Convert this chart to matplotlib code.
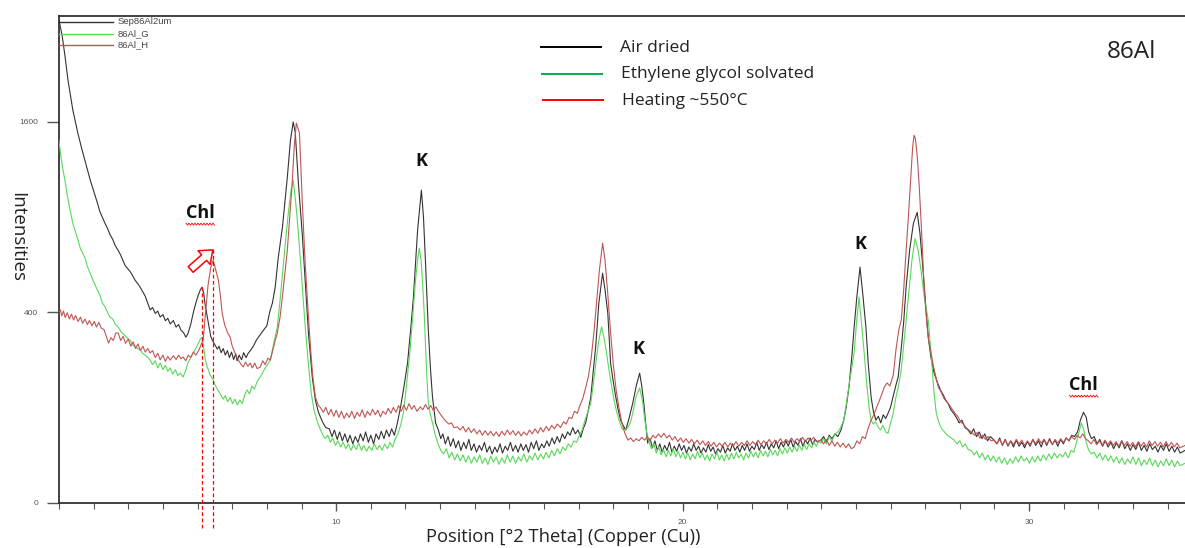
"""
XRD pattern of sample 86Al: air dried, glycolated and heated (~550 C) runs.
Intensity axis is square-root scaled, as in the instrument software export.
"""

import numpy as np
import matplotlib
matplotlib.use("Agg")
import matplotlib.pyplot as plt
from matplotlib.ticker import FixedLocator, MultipleLocator, NullFormatter
from matplotlib.transforms import blended_transform_factory, IdentityTransform

plt.rcParams["font.family"] = ["Open Sans", "DejaVu Sans"]

# --- data: (2theta [deg], counts) ---
air_dried = [
    (2.00, 2570), (2.09, 2410), (2.17, 2210), (2.26, 1970), (2.40, 1700), (2.55, 1500), (2.65, 1390),
    (2.75, 1290), (2.83, 1210), (2.90, 1150), (2.97, 1095), (3.04, 1040), (3.11, 990), (3.18, 935),
    (3.25, 900), (3.33, 860), (3.40, 830), (3.48, 790), (3.55, 765), (3.62, 730), (3.70, 705),
    (3.77, 680), (3.84, 650), (3.91, 620), (3.98, 605), (4.05, 590), (4.12, 570), (4.20, 545),
    (4.27, 530), (4.35, 510), (4.42, 490), (4.49, 470), (4.56, 440), (4.63, 410), (4.70, 420),
    (4.78, 395), (4.85, 405), (4.92, 380), (5.00, 390), (5.07, 365), (5.14, 375), (5.21, 352),
    (5.30, 366), (5.38, 340), (5.45, 350), (5.52, 328), (5.60, 318), (5.66, 302), (5.72, 314),
    (5.80, 350), (5.88, 400), (5.95, 440), (6.02, 475), (6.08, 500), (6.13, 512), (6.18, 480),
    (6.22, 430), (6.28, 380), (6.33, 340), (6.38, 305), (6.43, 290), (6.50, 275), (6.57, 260),
    (6.62, 270), (6.68, 248), (6.74, 262), (6.80, 240), (6.86, 255), (6.92, 232), (6.98, 250),
    (7.04, 226), (7.10, 244), (7.14, 222), (7.20, 240), (7.27, 225), (7.33, 248), (7.40, 232),
    (7.46, 246), (7.53, 256), (7.61, 270), (7.70, 292), (7.80, 310), (7.90, 328), (8.00, 345),
    (8.08, 400), (8.16, 440), (8.24, 512), (8.33, 665), (8.45, 838), (8.52, 1000), (8.59, 1168),
    (8.68, 1450), (8.76, 1600), (8.82, 1510), (8.91, 1125), (9.02, 800), (9.11, 530), (9.20, 317),
    (9.31, 174), (9.40, 116), (9.48, 92), (9.55, 80), (9.62, 70), (9.70, 62), (9.80, 60),
    (9.88, 48), (9.95, 58), (10.03, 44), (10.10, 55), (10.18, 42), (10.25, 52), (10.33, 40),
    (10.40, 50), (10.48, 38), (10.55, 48), (10.63, 40), (10.70, 52), (10.78, 42), (10.85, 55),
    (10.93, 40), (11.00, 50), (11.08, 38), (11.15, 52), (11.23, 44), (11.30, 56), (11.38, 45),
    (11.45, 58), (11.53, 48), (11.60, 60), (11.68, 50), (11.76, 68), (11.86, 101), (11.96, 150),
    (12.06, 215), (12.15, 330), (12.23, 466), (12.35, 819), (12.46, 1078), (12.52, 900),
    (12.58, 632), (12.66, 328), (12.72, 200), (12.78, 123), (12.87, 70), (12.95, 58), (13.02, 45),
    (13.08, 52), (13.15, 38), (13.23, 48), (13.30, 35), (13.38, 45), (13.45, 33), (13.53, 42),
    (13.60, 30), (13.68, 40), (13.75, 32), (13.83, 44), (13.90, 30), (13.98, 38), (14.05, 28),
    (14.13, 36), (14.20, 30), (14.28, 40), (14.35, 28), (14.43, 35), (14.50, 26), (14.58, 34),
    (14.65, 28), (14.73, 38), (14.80, 27), (14.88, 35), (14.95, 30), (15.03, 40), (15.10, 29),
    (15.18, 36), (15.25, 28), (15.33, 38), (15.40, 30), (15.48, 37), (15.55, 28), (15.63, 40),
    (15.70, 32), (15.78, 42), (15.85, 30), (15.93, 38), (16.00, 33), (16.08, 42), (16.15, 35),
    (16.23, 46), (16.30, 38), (16.38, 48), (16.45, 40), (16.53, 52), (16.60, 45), (16.68, 55),
    (16.75, 50), (16.83, 62), (16.90, 52), (16.98, 58), (17.06, 47), (17.13, 60), (17.20, 70),
    (17.28, 95), (17.35, 123), (17.42, 190), (17.49, 267), (17.58, 437), (17.69, 581), (17.76, 500),
    (17.84, 396), (17.92, 215), (18.00, 160), (18.07, 123), (18.14, 95), (18.21, 75), (18.28, 66),
    (18.36, 58), (18.46, 80), (18.56, 109), (18.66, 150), (18.76, 185), (18.82, 150), (18.88, 109),
    (18.94, 65), (18.99, 39), (19.06, 45), (19.13, 33), (19.20, 42), (19.27, 30), (19.34, 38),
    (19.41, 28), (19.48, 36), (19.55, 30), (19.62, 40), (19.69, 28), (19.76, 35), (19.83, 29),
    (19.90, 38), (19.97, 30), (20.04, 36), (20.11, 27), (20.18, 34), (20.25, 29), (20.32, 38),
    (20.39, 30), (20.46, 35), (20.53, 27), (20.60, 33), (20.67, 28), (20.74, 37), (20.81, 29),
    (20.88, 34), (20.95, 26), (21.02, 32), (21.09, 28), (21.16, 36), (21.23, 27), (21.30, 33),
    (21.37, 29), (21.44, 38), (21.51, 30), (21.58, 35), (21.65, 28), (21.72, 36), (21.79, 30),
    (21.86, 38), (21.93, 29), (22.00, 35), (22.07, 31), (22.14, 40), (22.21, 30), (22.28, 37),
    (22.35, 32), (22.42, 40), (22.49, 31), (22.56, 38), (22.63, 33), (22.70, 42), (22.77, 32),
    (22.84, 40), (22.91, 34), (22.98, 42), (23.05, 35), (23.12, 44), (23.19, 34), (23.26, 41),
    (23.33, 36), (23.40, 45), (23.47, 35), (23.54, 43), (23.61, 38), (23.68, 46), (23.75, 37),
    (23.82, 44), (23.90, 40), (23.99, 43), (24.07, 48), (24.15, 40), (24.23, 50), (24.31, 45),
    (24.40, 52), (24.48, 48), (24.57, 58), (24.65, 75), (24.72, 100), (24.80, 147), (24.88, 230),
    (24.95, 340), (25.03, 470), (25.12, 612), (25.20, 480), (25.29, 340), (25.36, 210), (25.44, 123),
    (25.51, 90), (25.58, 75), (25.65, 82), (25.72, 70), (25.79, 85), (25.86, 78), (25.93, 88),
    (26.00, 100), (26.08, 125), (26.15, 150), (26.22, 174), (26.30, 250), (26.38, 360), (26.45, 512),
    (26.55, 700), (26.66, 860), (26.77, 930), (26.85, 800), (26.94, 596), (27.02, 420), (27.09, 302),
    (27.17, 230), (27.26, 185), (27.35, 160), (27.44, 140), (27.52, 128), (27.60, 115), (27.66, 109),
    (27.74, 95), (27.82, 88), (27.90, 80), (27.98, 70), (28.06, 75), (28.15, 62), (28.24, 58),
    (28.32, 52), (28.40, 60), (28.48, 48), (28.56, 55), (28.64, 45), (28.72, 52), (28.80, 42),
    (28.88, 48), (28.99, 43), (29.07, 38), (29.15, 46), (29.23, 36), (29.31, 44), (29.39, 35),
    (29.47, 42), (29.55, 34), (29.63, 43), (29.71, 35), (29.79, 40), (29.87, 33), (29.95, 41),
    (30.03, 35), (30.11, 44), (30.19, 36), (30.27, 42), (30.35, 34), (30.43, 44), (30.51, 36),
    (30.59, 45), (30.67, 37), (30.75, 43), (30.83, 35), (30.91, 44), (30.99, 38), (31.07, 46),
    (31.15, 42), (31.23, 50), (31.31, 48), (31.40, 55), (31.48, 75), (31.57, 90), (31.65, 80),
    (31.72, 55), (31.80, 45), (31.88, 48), (31.96, 38), (32.04, 44), (32.12, 35), (32.20, 42),
    (32.28, 34), (32.36, 40), (32.44, 32), (32.52, 39), (32.60, 33), (32.68, 42), (32.76, 32),
    (32.84, 38), (32.92, 30), (33.00, 37), (33.08, 31), (33.16, 40), (33.24, 30), (33.32, 36),
    (33.40, 29), (33.48, 38), (33.56, 31), (33.64, 35), (33.72, 28), (33.80, 36), (33.88, 30),
    (33.96, 38), (34.04, 29), (34.12, 35), (34.20, 28), (34.28, 34), (34.36, 27), (34.50, 30),
]

glycolated = [
    (2.00, 1450), (2.05, 1330), (2.11, 1230), (2.17, 1148), (2.24, 1040), (2.32, 944), (2.40, 860),
    (2.48, 805), (2.55, 760), (2.62, 710), (2.68, 690), (2.75, 660), (2.82, 615), (2.90, 580),
    (2.98, 546), (3.05, 520), (3.11, 498), (3.18, 475), (3.25, 440), (3.32, 425), (3.40, 400),
    (3.47, 380), (3.55, 372), (3.63, 350), (3.71, 340), (3.80, 320), (3.88, 312), (3.96, 300),
    (4.05, 291), (4.12, 275), (4.20, 268), (4.27, 262), (4.34, 257), (4.42, 245), (4.49, 240),
    (4.56, 232), (4.63, 224), (4.70, 210), (4.78, 222), (4.85, 200), (4.92, 215), (5.00, 195),
    (5.07, 208), (5.14, 190), (5.21, 200), (5.28, 182), (5.36, 195), (5.43, 178), (5.50, 185),
    (5.58, 174), (5.65, 190), (5.72, 215), (5.80, 232), (5.87, 247), (5.95, 262), (6.03, 282),
    (6.08, 295), (6.13, 302), (6.18, 260), (6.23, 222), (6.28, 203), (6.36, 180), (6.45, 166),
    (6.52, 150), (6.60, 138), (6.67, 128), (6.74, 118), (6.80, 126), (6.87, 112), (6.94, 122),
    (7.01, 108), (7.08, 118), (7.15, 105), (7.22, 116), (7.29, 108), (7.36, 128), (7.43, 140),
    (7.50, 130), (7.57, 150), (7.64, 142), (7.72, 162), (7.81, 174), (7.90, 190), (7.98, 205),
    (8.05, 215), (8.10, 224), (8.18, 270), (8.25, 310), (8.30, 340), (8.38, 450), (8.47, 612),
    (8.55, 780), (8.63, 950), (8.70, 1080), (8.76, 1148), (8.83, 1000), (8.91, 800), (8.98, 620),
    (9.05, 452), (9.12, 320), (9.20, 210), (9.28, 132), (9.36, 95), (9.44, 75), (9.52, 62),
    (9.60, 52), (9.68, 45), (9.76, 50), (9.83, 40), (9.90, 46), (9.98, 36), (10.05, 42),
    (10.13, 34), (10.20, 40), (10.28, 32), (10.35, 38), (10.43, 30), (10.50, 37), (10.58, 31),
    (10.65, 39), (10.73, 30), (10.80, 36), (10.88, 29), (10.95, 35), (11.03, 30), (11.10, 38),
    (11.18, 31), (11.25, 36), (11.33, 30), (11.40, 38), (11.48, 32), (11.55, 40), (11.63, 34),
    (11.70, 44), (11.78, 52), (11.86, 66), (11.94, 88), (12.04, 160), (12.14, 267), (12.22, 400),
    (12.29, 546), (12.35, 650), (12.40, 715), (12.45, 650), (12.49, 546), (12.54, 400), (12.58, 267),
    (12.62, 170), (12.66, 109), (12.72, 85), (12.78, 70), (12.86, 50), (12.94, 38), (13.02, 30),
    (13.10, 26), (13.18, 32), (13.26, 22), (13.34, 28), (13.42, 20), (13.50, 26), (13.58, 19),
    (13.66, 25), (13.74, 18), (13.82, 24), (13.90, 17), (13.98, 23), (14.06, 18), (14.14, 25),
    (14.22, 17), (14.30, 22), (14.38, 16), (14.46, 24), (14.54, 18), (14.62, 23), (14.70, 16),
    (14.78, 22), (14.86, 17), (14.94, 25), (15.02, 18), (15.10, 24), (15.18, 17), (15.26, 23),
    (15.34, 19), (15.42, 26), (15.50, 18), (15.58, 24), (15.66, 20), (15.74, 27), (15.82, 20),
    (15.90, 26), (15.98, 21), (16.06, 28), (16.14, 22), (16.22, 30), (16.30, 24), (16.38, 32),
    (16.46, 26), (16.54, 34), (16.62, 30), (16.70, 38), (16.78, 34), (16.86, 42), (16.94, 40),
    (17.02, 50), (17.10, 58), (17.18, 75), (17.26, 90), (17.35, 110), (17.43, 160), (17.50, 220),
    (17.58, 290), (17.66, 340), (17.73, 300), (17.80, 250), (17.88, 190), (17.95, 150), (18.03, 112),
    (18.10, 90), (18.18, 72), (18.25, 60), (18.33, 58), (18.42, 62), (18.50, 72), (18.58, 95),
    (18.66, 125), (18.76, 145), (18.84, 115), (18.90, 80), (18.96, 55), (19.03, 40), (19.10, 32),
    (19.17, 38), (19.24, 27), (19.31, 34), (19.38, 25), (19.45, 31), (19.52, 23), (19.59, 30),
    (19.66, 24), (19.73, 32), (19.80, 23), (19.87, 29), (19.94, 22), (20.01, 28), (20.08, 21),
    (20.15, 27), (20.22, 20), (20.29, 26), (20.36, 21), (20.43, 29), (20.50, 22), (20.57, 27),
    (20.64, 20), (20.71, 25), (20.78, 19), (20.85, 26), (20.92, 21), (20.99, 28), (21.06, 20),
    (21.13, 25), (21.20, 19), (21.27, 26), (21.34, 20), (21.41, 27), (21.48, 21), (21.55, 28),
    (21.62, 22), (21.69, 26), (21.76, 20), (21.83, 27), (21.90, 22), (21.97, 29), (22.04, 23),
    (22.11, 28), (22.18, 22), (22.25, 30), (22.32, 24), (22.39, 29), (22.46, 23), (22.53, 31),
    (22.60, 25), (22.67, 30), (22.74, 24), (22.81, 32), (22.88, 26), (22.95, 33), (23.02, 27),
    (23.09, 34), (23.16, 28), (23.23, 35), (23.30, 29), (23.37, 36), (23.44, 30), (23.51, 37),
    (23.58, 31), (23.65, 38), (23.72, 33), (23.79, 40), (23.86, 35), (23.93, 42), (23.99, 39),
    (24.07, 45), (24.15, 38), (24.23, 48), (24.31, 42), (24.40, 52), (24.48, 55), (24.56, 62),
    (24.65, 75), (24.72, 105), (24.80, 150), (24.88, 200), (24.95, 247), (25.02, 360), (25.09, 466),
    (25.16, 360), (25.24, 247), (25.32, 150), (25.38, 100), (25.44, 75), (25.50, 68), (25.57, 72),
    (25.64, 63), (25.71, 58), (25.78, 66), (25.86, 55), (25.93, 53), (26.00, 70), (26.08, 88),
    (26.15, 120), (26.23, 150), (26.31, 194), (26.40, 300), (26.47, 400), (26.54, 512), (26.62, 650),
    (26.71, 770), (26.80, 700), (26.88, 596), (26.98, 460), (27.09, 367), (27.17, 247), (27.25, 140),
    (27.32, 88), (27.40, 70), (27.48, 60), (27.56, 55), (27.64, 50), (27.72, 47), (27.84, 43),
    (27.92, 38), (28.00, 42), (28.08, 34), (28.16, 38), (28.24, 31), (28.33, 30), (28.41, 25),
    (28.49, 29), (28.57, 22), (28.65, 27), (28.73, 20), (28.81, 25), (28.89, 19), (28.97, 24),
    (29.05, 18), (29.13, 23), (29.21, 17), (29.29, 22), (29.37, 16), (29.45, 21), (29.53, 17),
    (29.61, 23), (29.69, 18), (29.77, 24), (29.85, 19), (29.93, 22), (30.01, 17), (30.09, 23),
    (30.17, 18), (30.25, 24), (30.33, 19), (30.41, 25), (30.49, 20), (30.57, 26), (30.65, 21),
    (30.73, 27), (30.81, 22), (30.89, 26), (30.97, 23), (31.05, 28), (31.13, 22), (31.21, 30),
    (31.29, 28), (31.37, 40), (31.44, 55), (31.51, 70), (31.58, 58), (31.65, 40), (31.72, 30),
    (31.80, 26), (31.88, 28), (31.96, 22), (32.04, 27), (32.12, 20), (32.20, 25), (32.28, 19),
    (32.36, 24), (32.44, 18), (32.52, 23), (32.60, 17), (32.68, 22), (32.76, 16), (32.84, 21),
    (32.92, 17), (33.00, 23), (33.08, 16), (33.16, 22), (33.24, 15), (33.32, 20), (33.40, 16),
    (33.48, 22), (33.56, 15), (33.64, 20), (33.72, 14), (33.80, 19), (33.88, 15), (33.96, 21),
    (34.04, 15), (34.12, 20), (34.20, 14), (34.28, 19), (34.36, 15), (34.50, 17),
]

heated = [
    (2.00, 400), (2.04, 410), (2.08, 385), (2.13, 405), (2.18, 378), (2.24, 398), (2.30, 372),
    (2.36, 392), (2.42, 368), (2.48, 386), (2.55, 362), (2.62, 380), (2.68, 355), (2.75, 372),
    (2.82, 350), (2.88, 366), (2.95, 345), (3.02, 362), (3.08, 340), (3.15, 358), (3.22, 336),
    (3.30, 330), (3.38, 300), (3.43, 281), (3.50, 300), (3.57, 290), (3.64, 318), (3.71, 317),
    (3.78, 290), (3.85, 305), (3.92, 280), (4.00, 295), (4.07, 270), (4.14, 285), (4.21, 262),
    (4.28, 278), (4.35, 255), (4.42, 270), (4.49, 250), (4.56, 262), (4.63, 247), (4.70, 255),
    (4.78, 232), (4.85, 246), (4.92, 225), (5.00, 240), (5.07, 220), (5.14, 236), (5.21, 224),
    (5.30, 238), (5.38, 226), (5.45, 240), (5.52, 228), (5.58, 234), (5.66, 222), (5.73, 240),
    (5.80, 232), (5.88, 250), (5.95, 240), (5.99, 247), (6.05, 260), (6.10, 275), (6.16, 291),
    (6.22, 380), (6.30, 520), (6.38, 610), (6.45, 649), (6.52, 600), (6.60, 546), (6.66, 470),
    (6.71, 396), (6.78, 350), (6.86, 320), (6.94, 302), (7.00, 270), (7.07, 250), (7.14, 232),
    (7.20, 220), (7.26, 210), (7.32, 203), (7.38, 218), (7.45, 205), (7.52, 215), (7.58, 200),
    (7.65, 215), (7.72, 198), (7.81, 203), (7.88, 222), (7.95, 210), (8.03, 230), (8.10, 224),
    (8.18, 260), (8.24, 290), (8.30, 317), (8.38, 380), (8.45, 470), (8.52, 580), (8.59, 703),
    (8.66, 900), (8.73, 1125), (8.79, 1400), (8.85, 1590), (8.94, 1510), (9.02, 1010), (9.10, 650),
    (9.17, 452), (9.25, 280), (9.32, 180), (9.40, 123), (9.48, 105), (9.56, 98), (9.63, 90),
    (9.70, 100), (9.78, 85), (9.85, 96), (9.93, 82), (10.00, 94), (10.08, 80), (10.15, 92),
    (10.23, 78), (10.30, 88), (10.38, 80), (10.45, 92), (10.53, 78), (10.60, 90), (10.68, 82),
    (10.75, 95), (10.83, 80), (10.90, 92), (10.98, 84), (11.05, 96), (11.13, 85), (11.20, 94),
    (11.28, 81), (11.35, 92), (11.43, 86), (11.50, 98), (11.58, 88), (11.65, 100), (11.73, 90),
    (11.80, 104), (11.88, 92), (11.95, 105), (12.03, 94), (12.10, 108), (12.18, 96), (12.25, 104),
    (12.33, 92), (12.43, 101), (12.50, 95), (12.58, 106), (12.65, 96), (12.73, 104), (12.80, 94),
    (12.88, 101), (12.95, 92), (13.03, 84), (13.10, 78), (13.18, 72), (13.25, 68), (13.33, 70),
    (13.40, 62), (13.50, 63), (13.58, 58), (13.66, 64), (13.74, 55), (13.82, 62), (13.90, 54),
    (13.98, 60), (14.06, 52), (14.14, 58), (14.22, 50), (14.30, 57), (14.38, 50), (14.46, 56),
    (14.54, 49), (14.62, 55), (14.70, 48), (14.78, 56), (14.86, 50), (14.94, 58), (15.02, 51),
    (15.10, 57), (15.18, 50), (15.26, 56), (15.34, 49), (15.42, 55), (15.50, 50), (15.58, 58),
    (15.66, 52), (15.74, 60), (15.82, 53), (15.90, 62), (15.98, 55), (16.06, 64), (16.14, 57),
    (16.22, 66), (16.30, 60), (16.38, 68), (16.48, 62), (16.56, 72), (16.64, 68), (16.72, 80),
    (16.80, 78), (16.88, 92), (16.96, 88), (17.04, 105), (17.12, 120), (17.20, 145), (17.28, 175),
    (17.36, 230), (17.44, 320), (17.52, 450), (17.60, 600), (17.69, 743), (17.76, 650), (17.84, 480),
    (17.92, 320), (18.00, 210), (18.08, 140), (18.16, 100), (18.24, 72), (18.32, 55), (18.42, 43),
    (18.50, 46), (18.58, 41), (18.66, 45), (18.74, 42), (18.82, 47), (18.90, 43), (18.98, 48),
    (19.06, 42), (19.14, 50), (19.22, 46), (19.30, 52), (19.38, 47), (19.46, 53), (19.54, 46),
    (19.62, 50), (19.70, 43), (19.78, 48), (19.86, 41), (19.94, 46), (20.02, 40), (20.10, 45),
    (20.18, 39), (20.26, 44), (20.34, 38), (20.42, 43), (20.50, 37), (20.58, 42), (20.66, 36),
    (20.74, 41), (20.82, 35), (20.90, 40), (20.98, 34), (21.06, 39), (21.14, 35), (21.22, 40),
    (21.30, 34), (21.38, 39), (21.46, 35), (21.54, 41), (21.62, 35), (21.70, 40), (21.78, 36),
    (21.86, 42), (21.94, 36), (22.02, 41), (22.10, 37), (22.18, 43), (22.26, 37), (22.34, 42),
    (22.42, 38), (22.50, 44), (22.58, 38), (22.66, 43), (22.74, 39), (22.82, 45), (22.90, 39),
    (22.98, 44), (23.06, 40), (23.14, 46), (23.22, 40), (23.30, 45), (23.38, 41), (23.46, 47),
    (23.54, 41), (23.62, 46), (23.70, 42), (23.78, 47), (23.86, 41), (23.99, 43), (24.07, 38),
    (24.15, 44), (24.23, 36), (24.31, 42), (24.39, 35), (24.47, 40), (24.55, 34), (24.63, 39),
    (24.71, 33), (24.79, 38), (24.87, 32), (24.95, 34), (25.03, 42), (25.11, 38), (25.19, 48),
    (25.27, 45), (25.35, 60), (25.44, 75), (25.52, 85), (25.60, 100), (25.68, 115), (25.75, 130),
    (25.82, 147), (25.90, 158), (25.98, 150), (26.08, 179), (26.16, 260), (26.24, 330), (26.31, 367),
    (26.38, 500), (26.45, 700), (26.51, 880), (26.58, 1150), (26.64, 1400), (26.68, 1490),
    (26.72, 1460), (26.78, 1300), (26.83, 1100), (26.90, 800), (26.97, 512), (27.05, 350),
    (27.10, 290), (27.17, 247), (27.25, 200), (27.32, 170), (27.38, 147), (27.46, 135), (27.54, 120),
    (27.62, 112), (27.70, 105), (27.78, 96), (27.86, 88), (27.94, 82), (28.02, 72), (28.10, 68),
    (28.18, 62), (28.26, 58), (28.34, 55), (28.42, 50), (28.50, 54), (28.58, 46), (28.66, 50),
    (28.74, 44), (28.82, 48), (28.90, 42), (28.99, 43), (29.07, 38), (29.15, 44), (29.23, 37),
    (29.31, 43), (29.39, 36), (29.47, 42), (29.55, 37), (29.63, 44), (29.71, 38), (29.79, 43),
    (29.87, 36), (29.95, 42), (30.03, 37), (30.11, 44), (30.19, 38), (30.27, 45), (30.35, 39),
    (30.43, 44), (30.51, 38), (30.59, 43), (30.67, 37), (30.75, 44), (30.83, 39), (30.91, 45),
    (30.99, 40), (31.07, 46), (31.15, 42), (31.23, 48), (31.31, 44), (31.39, 50), (31.47, 46),
    (31.55, 52), (31.63, 45), (31.71, 42), (31.79, 38), (31.87, 44), (31.95, 37), (32.03, 42),
    (32.11, 36), (32.19, 43), (32.27, 37), (32.35, 42), (32.43, 36), (32.51, 41), (32.59, 35),
    (32.67, 42), (32.75, 36), (32.83, 41), (32.91, 35), (32.99, 40), (33.07, 34), (33.15, 41),
    (33.23, 35), (33.31, 40), (33.39, 34), (33.47, 42), (33.55, 36), (33.63, 41), (33.71, 35),
    (33.79, 40), (33.87, 34), (33.95, 41), (34.03, 35), (34.11, 40), (34.19, 34), (34.27, 39),
    (34.35, 33), (34.50, 36),
]

# instrument legend names and the annotated legend
scan_names = ["Sep86Al2um", "86Al_G", "86Al_H"]
treatments = ["Air dried", "Ethylene glycol solvated", "Heating ~550°C"]

# mineral labels: (text, 2theta, counts at label)
peak_labels = [
    ("Chl", 6.07, 925),
    ("K", 12.45, 1290),
    ("K", 18.72, 262),
    ("K", 25.12, 737),
    ("Chl", 31.57, 152),
]
chl_shift = [6.13, 6.45]  # chlorite 001 before / after heating

x_range = (2.0, 34.5)
y_top = 2615
y_ticks = [0, 400, 1600]
x_major = [10, 20, 30]

curve_colors = ["#333333", "#5ad85a", "#c05555"]
legend_colors = ["#000000", "#00b050", "#ff0000"]


def fwd(v):
    return np.sqrt(np.clip(v, 0, None))


def inv(v):
    return np.square(v)


fig = plt.figure(figsize=(11.85, 5.48), dpi=100)
ax = fig.add_axes([59 / 1185, 45.5 / 548, 1 - 59 / 1185, 486.5 / 548])
ax.set_yscale("function", functions=(fwd, inv))

for series, col in zip([air_dried, glycolated, heated], curve_colors):
    arr = np.array(series, dtype=float)
    ax.plot(arr[:, 0], arr[:, 1], color=col, lw=0.8, zorder=3)

ax.set_xlim(*x_range)
ax.set_ylim(0, y_top)

# axes styling
for side in ["left", "bottom", "top"]:
    ax.spines[side].set_color("#333333")
    ax.spines[side].set_linewidth(1.3)
ax.spines["right"].set_visible(False)

ax.yaxis.set_major_locator(FixedLocator(y_ticks))
ax.yaxis.set_minor_locator(FixedLocator([]))
ax.set_yticklabels([str(v) for v in y_ticks])
ax.tick_params(axis="y", which="major", length=9, width=1, color="#555555", pad=6,
               labelsize=6, labelcolor="#555555", labelfontfamily="Liberation Sans")

ax.xaxis.set_major_locator(FixedLocator(x_major))
ax.xaxis.set_minor_locator(MultipleLocator(1))
ax.xaxis.set_minor_formatter(NullFormatter())
ax.tick_params(axis="x", which="major", length=6, width=1, color="#555555", pad=6,
               labelsize=6, labelcolor="#555555", labelfontfamily="Liberation Sans")
ax.tick_params(axis="x", which="minor", length=4, width=0.8, color="#555555")

fig.text(17 / 1185, 1 - 237 / 548, "Intensities", rotation=270, ha="center", va="center",
         fontsize=13.5, color="#222222")
fig.text(563 / 1185, 1 - 537 / 548, "Position [°2 Theta] (Copper (Cu))", ha="center",
         va="center", fontsize=13.2, color="#222222")

# instrument legend, top left inside axes
for i, (name, col) in enumerate(zip(scan_names, curve_colors)):
    yy = 1 - (22 + 11.5 * i) / 548
    fig.add_artist(plt.Line2D([59 / 1185, 113 / 1185], [yy, yy], color=col, lw=1.0,
                              transform=fig.transFigure))
    fig.text(118 / 1185, yy, name, ha="left", va="center", fontsize=6.8, color="#444444",
             family="Liberation Sans")

# treatment legend
for i, (lab, col) in enumerate(zip(treatments, legend_colors)):
    yy = 1 - (47 + 26.5 * i) / 548
    fig.add_artist(plt.Line2D([(541 + i) / 1185, (601 + i) / 1185], [yy, yy], color=col, lw=1.4,
                              transform=fig.transFigure))
    fig.text((620 + i) / 1185, yy - 1 / 548, lab, ha="left", va="center", fontsize=12.5,
             color="#222222")

fig.text(1131 / 1185, 1 - 52 / 548, "86Al", ha="center", va="center", fontsize=17.5,
         color="#222222")

# mineral labels
for lab, xx, yy in peak_labels:
    ax.text(xx, yy, lab, ha="center", va="center", fontsize=13, fontweight="bold",
            color="#111111", zorder=5)
fig.canvas.draw()
ident = IdentityTransform()
for lab, xx, yy in peak_labels:
    if lab != "Chl":
        continue
    px, py = ax.transData.transform((xx, yy))
    zx = np.arange(px - 14, px + 15, 1.5)
    zy = py - 11 + np.where(np.arange(len(zx)) % 2 == 0, 1.0, -1.0)
    ax.add_artist(plt.Line2D(zx, zy, color="red", lw=0.6, transform=ident, zorder=5))

# dashed guides showing the chlorite peak shift on heating
blend = blended_transform_factory(ax.transData, ax.transAxes)
for xx, top in zip(chl_shift, [0.447, 0.523]):
    ax.plot([xx, xx], [-0.052, top], transform=blend, color="red", lw=0.9,
            ls=(0, (3, 2)), clip_on=False, zorder=4)

ax.annotate("", xy=(6.44, 705), xytext=(5.80, 600),
            arrowprops=dict(arrowstyle="simple,head_length=0.7,head_width=1.1,tail_width=0.45",
                            fc="white", ec="red", lw=1.1, mutation_scale=12,
                            shrinkA=0, shrinkB=0),
            zorder=5)

fig.savefig("out.png", dpi=100)
